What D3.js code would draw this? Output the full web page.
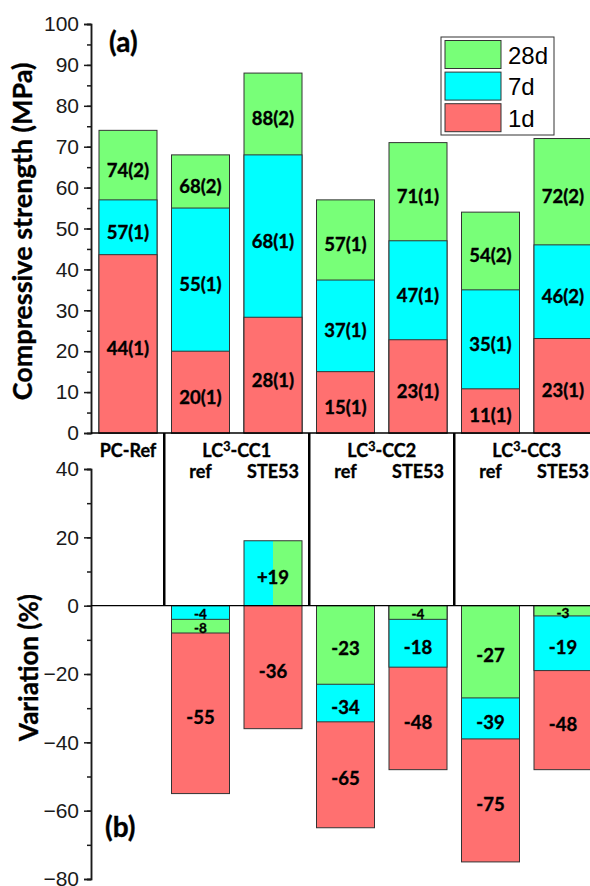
<!DOCTYPE html>
<html>
<head>
<meta charset="utf-8">
<script src="https://cdn.jsdelivr.net/npm/d3@7"></script>
<style>
  body { margin: 0; background: #fff; }
  svg { display: block; }
  .lbl { font-family: Lato, "Open Sans", sans-serif; font-weight: bold; fill: #000; stroke: #000; stroke-width: 0.35px; }
</style>
</head>
<body>
<svg id="chart"></svg>
<script>
// bar order, left to right
const bars = ['PC-Ref', 'CC1-ref', 'CC1-STE53', 'CC2-ref', 'CC2-STE53', 'CC3-ref', 'CC3-STE53'];

// (a) compressive strength, MPa
const str1d  = [43.6, 20, 28.3, 15, 22.8, 10.8, 23.1];
const str7d  = [57, 55, 68, 37.4, 47, 35, 46];
const str28d = [74, 68, 88, 57, 71, 54, 72];
const lab1d  = ['44(1)', '20(1)', '28(1)', '15(1)', '23(1)', '11(1)', '23(1)'];
const lab7d  = ['57(1)', '55(1)', '68(1)', '37(1)', '47(1)', '35(1)', '46(2)'];
const lab28d = ['74(2)', '68(2)', '88(2)', '57(1)', '71(1)', '54(2)', '72(2)'];

// (b) variation vs PC-Ref, %
const var1d  = [null, -55, -36, -65, -48, -75, -48];
const var7d  = [null, -4, 19, -34, -18, -39, -19];
const var28d = [null, -8, 19, -23, -4, -27, -3];

// category groups under (a)
const groups = [
  { name: 'PC-Ref', bars: [0] },
  { name: 'CC1', bars: [1, 2] },
  { name: 'CC2', bars: [3, 4] },
  { name: 'CC3', bars: [5, 6] }
];
const subLabels = ['', 'ref', 'STE53', 'ref', 'STE53', 'ref', 'STE53'];

const yTicksA = [0, 10, 20, 30, 40, 50, 60, 70, 80, 90, 100];
const yTicksB = [-80, -60, -40, -20, 0, 20, 40];

const series = [
  { key: '28d', color: '#78ff78', str: str28d, lab: lab28d, vr: var28d },
  { key: '7d',  color: '#00ffff', str: str7d,  lab: lab7d,  vr: var7d },
  { key: '1d',  color: '#ff7070', str: str1d,  lab: lab1d,  vr: var1d }
];

const W = 590, H = 886;
const svg = d3.select('#chart').attr('width', W).attr('height', H);

const x = d3.scaleBand().domain(bars).range([91.75, 599.25]).paddingInner(0.2).paddingOuter(0.1);
const yA = d3.scaleLinear().domain([0, 100]).range([433, 24]);
const yB = d3.scaleLinear().domain([-80, 40]).range([879, 469]);
const axisX = 91;
const LBL = '18.5px';

// ---------- (a) ----------
const gA = svg.append('g');
bars.forEach((b, i) => {
  const vals = series.map(s => ({ s, v: s.str[i] })).sort((p, q) => q.v - p.v);
  vals.forEach(d => {
    gA.append('rect')
      .attr('x', x(b)).attr('width', x.bandwidth())
      .attr('y', yA(d.v)).attr('height', yA(0) - yA(d.v))
      .attr('fill', d.s.color).attr('stroke', '#333').attr('stroke-width', 1);
  });
  // labels at segment middles
  let prev = 0;
  vals.slice().reverse().forEach(d => {
    const mid = (yA(prev) + yA(d.v)) / 2;
    gA.append('text').attr('class', 'lbl')
      .attr('x', x(b) + x.bandwidth() / 2).attr('y', mid + 5)
      .attr('dy', '0.35em').attr('text-anchor', 'middle')
      .style('font-size', LBL).text(d.s.lab[i]);
    prev = d.v;
  });
});

// ---------- (b) ----------
const gB = svg.append('g');
bars.forEach((b, i) => {
  if (var1d[i] === null) return;
  const x0 = x(b), bw = x.bandwidth();
  const v7 = var7d[i], v28 = var28d[i];
  if (v7 === v28 && v7 > 0) {
    // equal positive gain: cyan and green side by side
    const yTop = yB(v7);
    gB.append('rect').attr('x', x0).attr('width', bw / 2)
      .attr('y', yTop).attr('height', yB(0) - yTop).attr('fill', '#00ffff');
    gB.append('rect').attr('x', x0 + bw / 2).attr('width', bw / 2)
      .attr('y', yTop).attr('height', yB(0) - yTop).attr('fill', '#78ff78');
    gB.append('rect').attr('x', x0).attr('width', bw)
      .attr('y', yTop).attr('height', yB(0) - yTop)
      .attr('fill', 'none').attr('stroke', '#333').attr('stroke-width', 1);
    gB.append('text').attr('class', 'lbl')
      .attr('x', x0 + bw / 2).attr('y', (yTop + yB(0)) / 2 + 4)
      .attr('dy', '0.35em').attr('text-anchor', 'middle')
      .style('font-size', LBL).text('+' + v7);
    const v1 = var1d[i];
    gB.append('rect').attr('x', x0).attr('width', bw)
      .attr('y', yB(0)).attr('height', yB(v1) - yB(0))
      .attr('fill', '#ff7070').attr('stroke', '#333').attr('stroke-width', 1);
    gB.append('text').attr('class', 'lbl')
      .attr('x', x0 + bw / 2).attr('y', (yB(0) + yB(v1)) / 2 + 4)
      .attr('dy', '0.35em').attr('text-anchor', 'middle')
      .style('font-size', LBL).text(v1);
    return;
  }
  const vals = series.map(s => ({ s, v: s.vr[i] })).sort((p, q) => p.v - q.v);
  vals.forEach(d => {
    gB.append('rect')
      .attr('x', x0).attr('width', bw)
      .attr('y', yB(0)).attr('height', yB(d.v) - yB(0))
      .attr('fill', d.s.color).attr('stroke', '#333').attr('stroke-width', 1);
  });
  let prev = 0;
  vals.slice().reverse().forEach(d => {
    const small = Math.abs(d.v - prev) < 6;
    const mid = (yB(prev) + yB(d.v)) / 2;
    gB.append('text').attr('class', 'lbl')
      .attr('x', x0 + bw / 2).attr('y', small ? mid + 2 : mid + 4)
      .attr('dy', '0.35em').attr('text-anchor', 'middle')
      .style('font-size', small ? '13.5px' : LBL).text(d.v);
    prev = d.v;
  });
});

// ---------- axes ----------
// minor ticks first, majors on top
const minorA = svg.append('g').attr('transform', `translate(${axisX},0)`)
  .call(d3.axisLeft(yA).tickValues(d3.range(0, 100.1, 5)).tickSize(4).tickFormat(''));
const minorB = svg.append('g').attr('transform', `translate(${axisX},0)`)
  .call(d3.axisLeft(yB).tickValues(d3.range(-80, 40.1, 10)).tickSize(4).tickFormat(''));
[minorA, minorB].forEach(g => {
  g.selectAll('.domain').attr('stroke', '#1a1a1a').attr('stroke-width', 1.5);
  g.selectAll('.tick line').attr('stroke', '#1a1a1a').attr('stroke-width', 1.5);
});
const majorA = svg.append('g').attr('transform', `translate(${axisX},0)`)
  .call(d3.axisLeft(yA).tickValues(yTicksA).tickSize(7).tickPadding(5));
const majorB = svg.append('g').attr('transform', `translate(${axisX},0)`)
  .call(d3.axisLeft(yB).tickValues(yTicksB).tickSize(7).tickPadding(5));
[majorA, majorB].forEach(g => {
  g.selectAll('.domain').attr('stroke', '#1a1a1a').attr('stroke-width', 1.5);
  g.selectAll('.tick line').attr('stroke', '#1a1a1a').attr('stroke-width', 1.5);
  g.selectAll('.tick text').attr('fill', '#1a1a1a')
    .style('font-family', '"Liberation Sans", Arial, sans-serif').style('font-size', '21px');
});

// baseline of (a) and zero line of (b)
svg.append('line').attr('x1', axisX).attr('x2', W).attr('y1', yA(0)).attr('y2', yA(0))
  .attr('stroke', '#000').attr('stroke-width', 1.5);
svg.append('line').attr('x1', axisX).attr('x2', W).attr('y1', yB(0)).attr('y2', yB(0))
  .attr('stroke', '#000').attr('stroke-width', 1.2);

// group separators
groups.slice(1).forEach(g => {
  const first = bars[g.bars[0]];
  const sx = x(first) - x.step() * x.paddingInner() / 2;
  svg.append('line').attr('x1', sx).attr('x2', sx).attr('y1', yA(0)).attr('y2', yB(0))
    .attr('stroke', '#000').attr('stroke-width', 2.5);
});

// category labels
groups.forEach(g => {
  const cx = d3.mean(g.bars, i => x(bars[i]) + x.bandwidth() / 2);
  const t = svg.append('text').attr('class', 'lbl')
    .attr('x', cx).attr('y', 457).attr('text-anchor', 'middle').style('font-size', '18px');
  if (g.name === 'PC-Ref') {
    t.text('PC-Ref');
  } else {
    t.append('tspan').text('LC');
    t.append('tspan').attr('dy', -6).style('font-size', '12.5px').text('3');
    t.append('tspan').attr('dy', 6).text('-' + g.name);
  }
});
bars.forEach((b, i) => {
  if (!subLabels[i]) return;
  svg.append('text').attr('class', 'lbl')
    .attr('x', x(b) + x.bandwidth() / 2).attr('y', 478)
    .attr('text-anchor', 'middle').style('font-size', '18px').text(subLabels[i]);
});

// axis titles
svg.append('text').attr('class', 'lbl')
  .attr('transform', 'translate(32,231.5) rotate(-90)')
  .attr('text-anchor', 'middle').style('font-size', '27px')
  .text('Compressive strength (MPa)');
svg.append('text').attr('class', 'lbl')
  .attr('transform', 'translate(38,667.5) rotate(-90)')
  .attr('text-anchor', 'middle').style('font-size', '26px')
  .text('Variation (%)');

// panel tags
svg.append('text').attr('class', 'lbl').attr('x', 109).attr('y', 52).style('font-size', '28px').text('(a)');
svg.append('text').attr('class', 'lbl').attr('x', 105).attr('y', 837).style('font-size', '28px').text('(b)');

// legend
const leg = svg.append('g');
leg.append('rect').attr('x', 441).attr('y', 37).attr('width', 113).attr('height', 98)
  .attr('fill', '#fff').attr('stroke', '#333').attr('stroke-width', 1);
series.forEach((s, k) => {
  const yy = 40.5 + k * 31.6;
  leg.append('rect').attr('x', 445).attr('y', yy).attr('width', 56).attr('height', 28)
    .attr('fill', s.color).attr('stroke', '#333').attr('stroke-width', 1);
  leg.append('text').attr('x', 508).attr('y', yy + 23)
    .style('font-family', '"Liberation Sans", Arial, sans-serif').style('font-size', '24px')
    .attr('fill', '#000').text(s.key);
});
</script>
</body>
</html>
